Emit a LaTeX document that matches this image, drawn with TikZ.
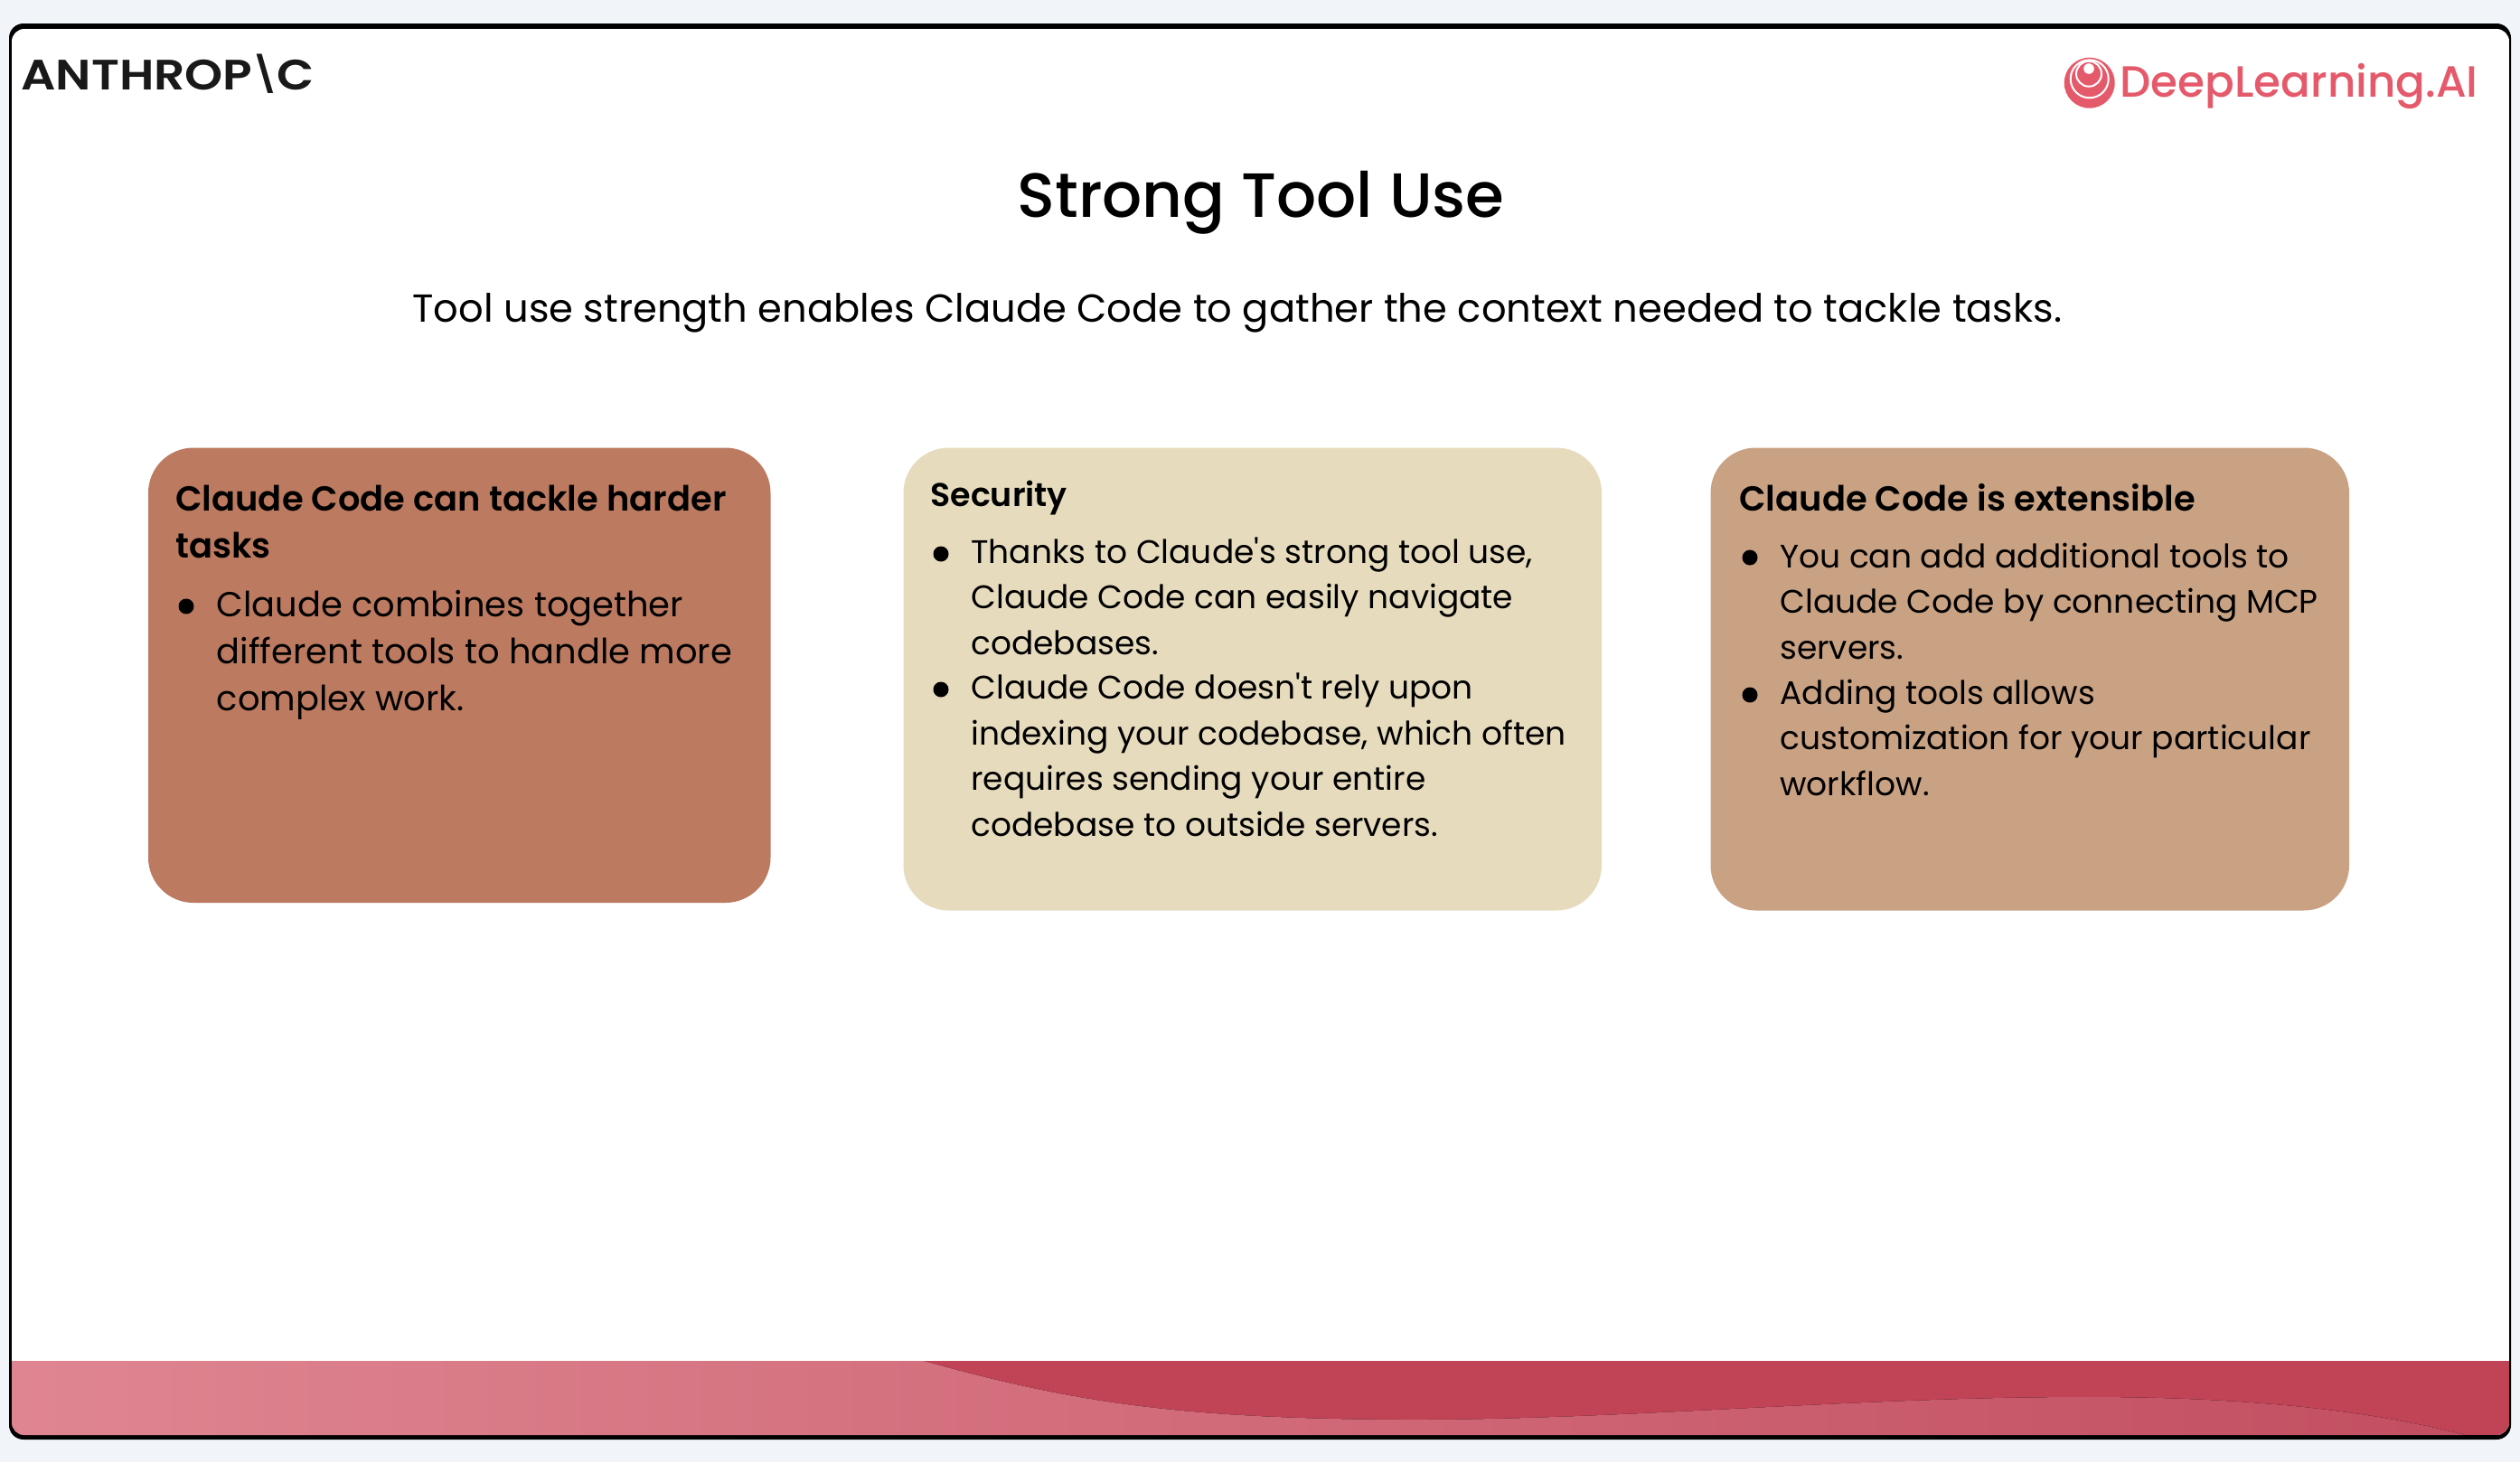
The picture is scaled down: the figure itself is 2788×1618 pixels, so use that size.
\documentclass[tikz,border=0pt]{standalone}
\usepackage{fontspec}
\setmainfont{Poppins}
\newfontfamily\medfont{Poppins Medium}
\newfontfamily\semifont{Poppins SemiBold}
\newfontfamily\logofont[FakeStretch=1.14]{Poppins SemiBold}
\definecolor{pagebg}{HTML}{F1F4F9}
\definecolor{cardrust}{HTML}{BC7A60}
\definecolor{cardsand}{HTML}{E6DBBD}
\definecolor{cardtan}{HTML}{C9A183}
\definecolor{dlred}{HTML}{E55A6B}
\definecolor{wavedark}{HTML}{C14356}
\definecolor{waveleft}{HTML}{DF8591}
\definecolor{waveright}{HTML}{C24F61}
\tikzset{
	card/.style={rounded corners=25pt},
	head/.style={anchor=base west,inner sep=0pt,align=left,font=\semifont\fontsize{19.2}{25.8}\selectfont},
	body/.style={anchor=base west,inner sep=0pt,align=left,font=\fontsize{18}{25.2}\selectfont},
	bodylarge/.style={body,font=\fontsize{19.2}{26}\selectfont},
	bulletdot/.style={circle,fill=black,inner sep=0pt,minimum size=8.5pt},
}
\begin{document}
\begin{tikzpicture}[x=.5pt,y=-.5pt,line join=round]
	\useasboundingbox (0,0) rectangle (2788,1618);
	\fill[pagebg] (0,0) rectangle (2788,1618);
	\fill[black,rounded corners=8pt] (10,26) rectangle (2778,1593);
	\begin{scope}
		\clip[rounded corners=7pt] (13,32) rectangle (2776,1588);
		\fill[white] (13,32) rectangle (2776,1588);
		\fill[wavedark] (13,1506) rectangle (2776,1588);
		\fill[left color=waveleft,right color=waveright] (13,1506) -- (1022,1506)
			.. controls (1180,1550) and (1300,1571) .. (1567,1571)
			.. controls (1800,1571) and (2050,1546) .. (2308,1546)
			.. controls (2450,1546) and (2600,1555) .. (2727,1588) -- (13,1588) -- cycle;
	\end{scope}
	%logos
	\node[anchor=base west,inner sep=0pt,text=black!90,font=\logofont\fontsize{23.5}{28}\selectfont] (anthropic) at (23,99.5) {ANTHROP\kern-1.5pt\raisebox{1.6pt}{\scalebox{.82}{\textbackslash}}\kern-1.5pt C};
	\fill[dlred] (2311.7,91.7) circle (14pt);
	\draw[white,line width=1pt] (2311.7,87.3) circle (10.5pt);
	\draw[white,line width=1pt] (2311,81.7) circle (7pt);
	\fill[white] (2311,76) circle (2.9pt);
	\node[anchor=base west,inner sep=0pt,text=dlred,font=\medfont\fontsize{24.2}{28}\selectfont] (deeplearning) at (2345,107.5) {DeepLearning.AI};
	%heading
	\node[anchor=base,inner sep=0pt,font=\medfont\fontsize{34.6}{38}\selectfont] (title) at (1395,240.5) {Strong Tool Use};
	\node[anchor=base,inner sep=0pt,font=\fontsize{21.6}{26}\selectfont] (subtitle) at (1369,356.5) {Tool use strength enables Claude Code to gather the context needed to tackle tasks.};
	%cards
	\fill[card,cardrust] (164,495.5) rectangle (852.5,999);
	\fill[card,cardsand] (999.5,495.5) rectangle (1772,1007.5);
	\fill[card,cardtan] (1892.5,495.5) rectangle (2599,1007.5);
	\node[head] (hardhead) at (194,617) {Claude Code can tackle harder\\tasks};
	\node[bulletdot] (harddot) at (206,671) {};
	\node[bodylarge] (hardtext) at (239.5,786) {Claude combines together\\different tools to handle more\\complex work.};
	\node[head,font=\semifont\fontsize{18.2}{25.8}\selectfont] (sechead) at (1029,560.5) {Security};
	\node[bulletdot] (secdota) at (1041,613) {};
	\node[body] (sectexta) at (1074,724) {Thanks to Claude\textquotesingle s strong tool use,\\Claude Code can easily navigate\\codebases.};
	\node[bulletdot] (secdotb) at (1041,763) {};
	\node[body] (sectextb) at (1074,925) {Claude Code doesn\textquotesingle t rely upon\\indexing your codebase, which often\\requires sending your entire\\codebase to outside servers.};
	\node[head] (exthead) at (1924,565.5) {Claude Code is extensible};
	\node[bulletdot] (extdota) at (1936,617) {};
	\node[body] (exttexta) at (1969,729) {You can add additional tools to\\Claude Code by connecting MCP\\servers.};
	\node[bulletdot] (extdotb) at (1936,769) {};
	\node[body] (exttextb) at (1969,880) {Adding tools allows\\customization for your particular\\workflow.};
\end{tikzpicture}
\end{document}
